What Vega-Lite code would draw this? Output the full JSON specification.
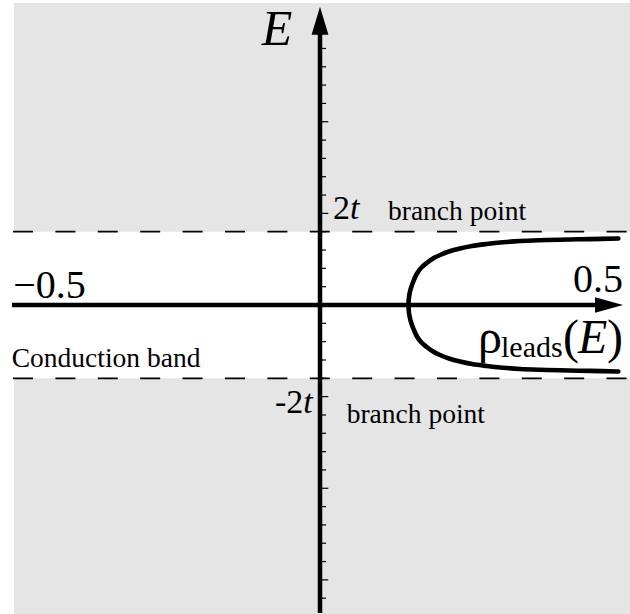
{
  "$schema": "https://vega.github.io/schema/vega-lite/v6.json",
  "width": 630,
  "height": 614,
  "autosize": "none",
  "padding": 0,
  "background": "white",
  "config": {"view": {"stroke": null}, "font": "Liberation Serif"},
  "datasets": {
    "bands": [
      {"band": "above", "E0": 2, "E1": 8.24},
      {"band": "below", "E0": -2, "E1": -8.431}
    ],
    "branch": [{"E": 2}, {"E": -2}],
    "minorTicks": [
      {"E": 0.5}, {"E": 1}, {"E": 1.5}, {"E": 2}, {"E": 3}, {"E": 3.5}, {"E": 4}, {"E": 4.5},
      {"E": 5.5}, {"E": 6}, {"E": 6.5}, {"E": 7},
      {"E": -0.5}, {"E": -1}, {"E": -1.5}, {"E": -2}, {"E": -3}, {"E": -3.5}, {"E": -4}, {"E": -4.5},
      {"E": -5.5}, {"E": -6}, {"E": -6.5}, {"E": -7}, {"E": -8}
    ],
    "majorTicks": [{"E": 2.5}, {"E": 5}, {"E": -2.5}, {"E": -5}, {"E": -7.5}],
    "rho": [
      {"E": -1.814, "rho": 0.5424}, {"E": -1.798, "rho": 0.4909}, {"E": -1.782, "rho": 0.4364},
      {"E": -1.768, "rho": 0.4}, {"E": -1.746, "rho": 0.3636}, {"E": -1.711, "rho": 0.3327},
      {"E": -1.664, "rho": 0.3031}, {"E": -1.61, "rho": 0.2764}, {"E": -1.542, "rho": 0.2545},
      {"E": -1.46, "rho": 0.2345}, {"E": -1.364, "rho": 0.2182}, {"E": -1.269, "rho": 0.2055},
      {"E": -1.146, "rho": 0.194}, {"E": -1.01, "rho": 0.1836}, {"E": -0.846, "rho": 0.1758},
      {"E": -0.655, "rho": 0.17}, {"E": -0.437, "rho": 0.1649}, {"E": -0.218, "rho": 0.1618},
      {"E": 0, "rho": 0.1609},
      {"E": 0.218, "rho": 0.1618}, {"E": 0.437, "rho": 0.1649}, {"E": 0.655, "rho": 0.17},
      {"E": 0.846, "rho": 0.1758}, {"E": 1.01, "rho": 0.1836}, {"E": 1.146, "rho": 0.194},
      {"E": 1.269, "rho": 0.2055}, {"E": 1.364, "rho": 0.2182}, {"E": 1.46, "rho": 0.2345},
      {"E": 1.542, "rho": 0.2545}, {"E": 1.61, "rho": 0.2764}, {"E": 1.664, "rho": 0.3031},
      {"E": 1.711, "rho": 0.3327}, {"E": 1.746, "rho": 0.3636}, {"E": 1.768, "rho": 0.4},
      {"E": 1.782, "rho": 0.4364}, {"E": 1.798, "rho": 0.4909}, {"E": 1.814, "rho": 0.5424}
    ]
  },
  "encoding": {
    "x": {"type": "quantitative", "scale": {"domain": [-0.5818, 0.5636], "nice": false, "zero": false}, "axis": null},
    "y": {"type": "quantitative", "scale": {"domain": [-8.431, 8.322], "nice": false, "zero": false}, "axis": null}
  },
  "layer": [
    {
      "description": "grey regions outside the conduction band",
      "data": {"name": "bands"},
      "mark": {"type": "rect", "color": "#e5e5e5"},
      "encoding": {
        "x": {"datum": -0.5564},
        "x2": {"datum": 0.5636},
        "y": {"field": "E0"},
        "y2": {"field": "E1"}
      }
    },
    {
      "description": "dashed lines at the band edges E = +-2t",
      "data": {"name": "branch"},
      "mark": {"type": "rule", "color": "black", "strokeWidth": 1.8, "strokeDash": [20, 22.4]},
      "encoding": {
        "x": {"datum": -0.5582},
        "x2": {"datum": 0.5636},
        "y": {"field": "E"}
      }
    },
    {
      "description": "horizontal axis line",
      "data": {"values": [{"E": 0}]},
      "mark": {"type": "rule", "color": "black", "strokeWidth": 4.5},
      "encoding": {"x": {"datum": -0.56}, "x2": {"datum": 0.51}, "y": {"field": "E"}}
    },
    {
      "description": "vertical axis line",
      "data": {"values": [{"rho": 0}]},
      "mark": {"type": "rule", "color": "black", "strokeWidth": 4.5},
      "encoding": {"x": {"field": "rho"}, "y": {"datum": -8.404}, "y2": {"datum": 7.4}}
    },
    {
      "data": {"name": "minorTicks"},
      "mark": {"type": "rule", "color": "black", "strokeWidth": 1.2},
      "encoding": {"x": {"datum": 0}, "x2": {"datum": 0.0109}, "y": {"field": "E"}}
    },
    {
      "data": {"name": "majorTicks"},
      "mark": {"type": "rule", "color": "black", "strokeWidth": 1.2},
      "encoding": {"x": {"datum": 0}, "x2": {"datum": 0.0151}, "y": {"field": "E"}}
    },
    {
      "description": "arrowhead of the E axis",
      "data": {"values": [{"rho": 0, "E": 7.757}]},
      "mark": {"type": "point", "filled": true, "opacity": 1, "color": "black", "size": 784, "shape": "M 0 -1 L 0.6 1 L -0.6 1 Z"},
      "encoding": {"x": {"field": "rho"}, "y": {"field": "E"}}
    },
    {
      "description": "arrowhead of the rho axis",
      "data": {"values": [{"rho": 0.5255, "E": 0}]},
      "mark": {"type": "point", "filled": true, "opacity": 1, "color": "black", "size": 784, "shape": "M 1 0 L -1 0.56 L -1 -0.56 Z"},
      "encoding": {"x": {"field": "rho"}, "y": {"field": "E"}}
    },
    {
      "description": "lead density of states",
      "data": {"name": "rho"},
      "mark": {"type": "line", "color": "black", "strokeWidth": 4.6, "interpolate": "catmull-rom", "strokeCap": "round"},
      "encoding": {
        "x": {"field": "rho"},
        "y": {"field": "E"},
        "order": {"field": "E"}
      }
    },
    {
      "data": {"values": [{"label": "E", "rho": -0.106, "E": 7.094}]},
      "mark": {"type": "text", "align": "left", "baseline": "alphabetic", "fontSize": 50, "fontStyle": "italic"},
      "encoding": {"x": {"field": "rho"}, "y": {"field": "E"}, "text": {"field": "label"}}
    },
    {
      "data": {"values": [{"label": "2", "rho": 0.0236, "E": 2.347}, {"label": "-2", "rho": -0.0818, "E": -2.947}]},
      "mark": {"type": "text", "align": "left", "baseline": "alphabetic", "fontSize": 34},
      "encoding": {"x": {"field": "rho"}, "y": {"field": "E"}, "text": {"field": "label"}}
    },
    {
      "data": {"values": [{"label": "t", "rho": 0.0545, "E": 2.347}, {"label": "t", "rho": -0.0304, "E": -2.947}]},
      "mark": {"type": "text", "align": "left", "baseline": "alphabetic", "fontSize": 34, "fontStyle": "italic"},
      "encoding": {"x": {"field": "rho"}, "y": {"field": "E"}, "text": {"field": "label"}}
    },
    {
      "data": {"values": [
        {"label": "branch point", "rho": 0.1236, "E": 2.319},
        {"label": "branch point", "rho": 0.0485, "E": -3.228},
        {"label": "Conduction band", "rho": -0.5605, "E": -1.683}
      ]},
      "mark": {"type": "text", "align": "left", "baseline": "alphabetic", "fontSize": 27.5},
      "encoding": {"x": {"field": "rho"}, "y": {"field": "E"}, "text": {"field": "label"}}
    },
    {
      "data": {"values": [
        {"label": "−0.5", "rho": -0.5576, "E": 0.183},
        {"label": "0.5", "rho": 0.46, "E": 0.368}
      ]},
      "mark": {"type": "text", "align": "left", "baseline": "alphabetic", "fontSize": 40},
      "encoding": {"x": {"field": "rho"}, "y": {"field": "E"}, "text": {"field": "label"}}
    },
    {
      "data": {"values": [
        {"label": "ρ", "rho": 0.2873, "E": -1.31},
        {"label": "(", "rho": 0.4418, "E": -1.31},
        {"label": ")", "rho": 0.5218, "E": -1.31}
      ]},
      "mark": {"type": "text", "align": "left", "baseline": "alphabetic", "fontSize": 48},
      "encoding": {"x": {"field": "rho"}, "y": {"field": "E"}, "text": {"field": "label"}}
    },
    {
      "data": {"values": [{"label": "leads", "rho": 0.3291, "E": -1.419}]},
      "mark": {"type": "text", "align": "left", "baseline": "alphabetic", "fontSize": 30},
      "encoding": {"x": {"field": "rho"}, "y": {"field": "E"}, "text": {"field": "label"}}
    },
    {
      "data": {"values": [{"label": "E", "rho": 0.4691, "E": -1.31}]},
      "mark": {"type": "text", "align": "left", "baseline": "alphabetic", "fontSize": 48, "fontStyle": "italic"},
      "encoding": {"x": {"field": "rho"}, "y": {"field": "E"}, "text": {"field": "label"}}
    }
  ]
}
